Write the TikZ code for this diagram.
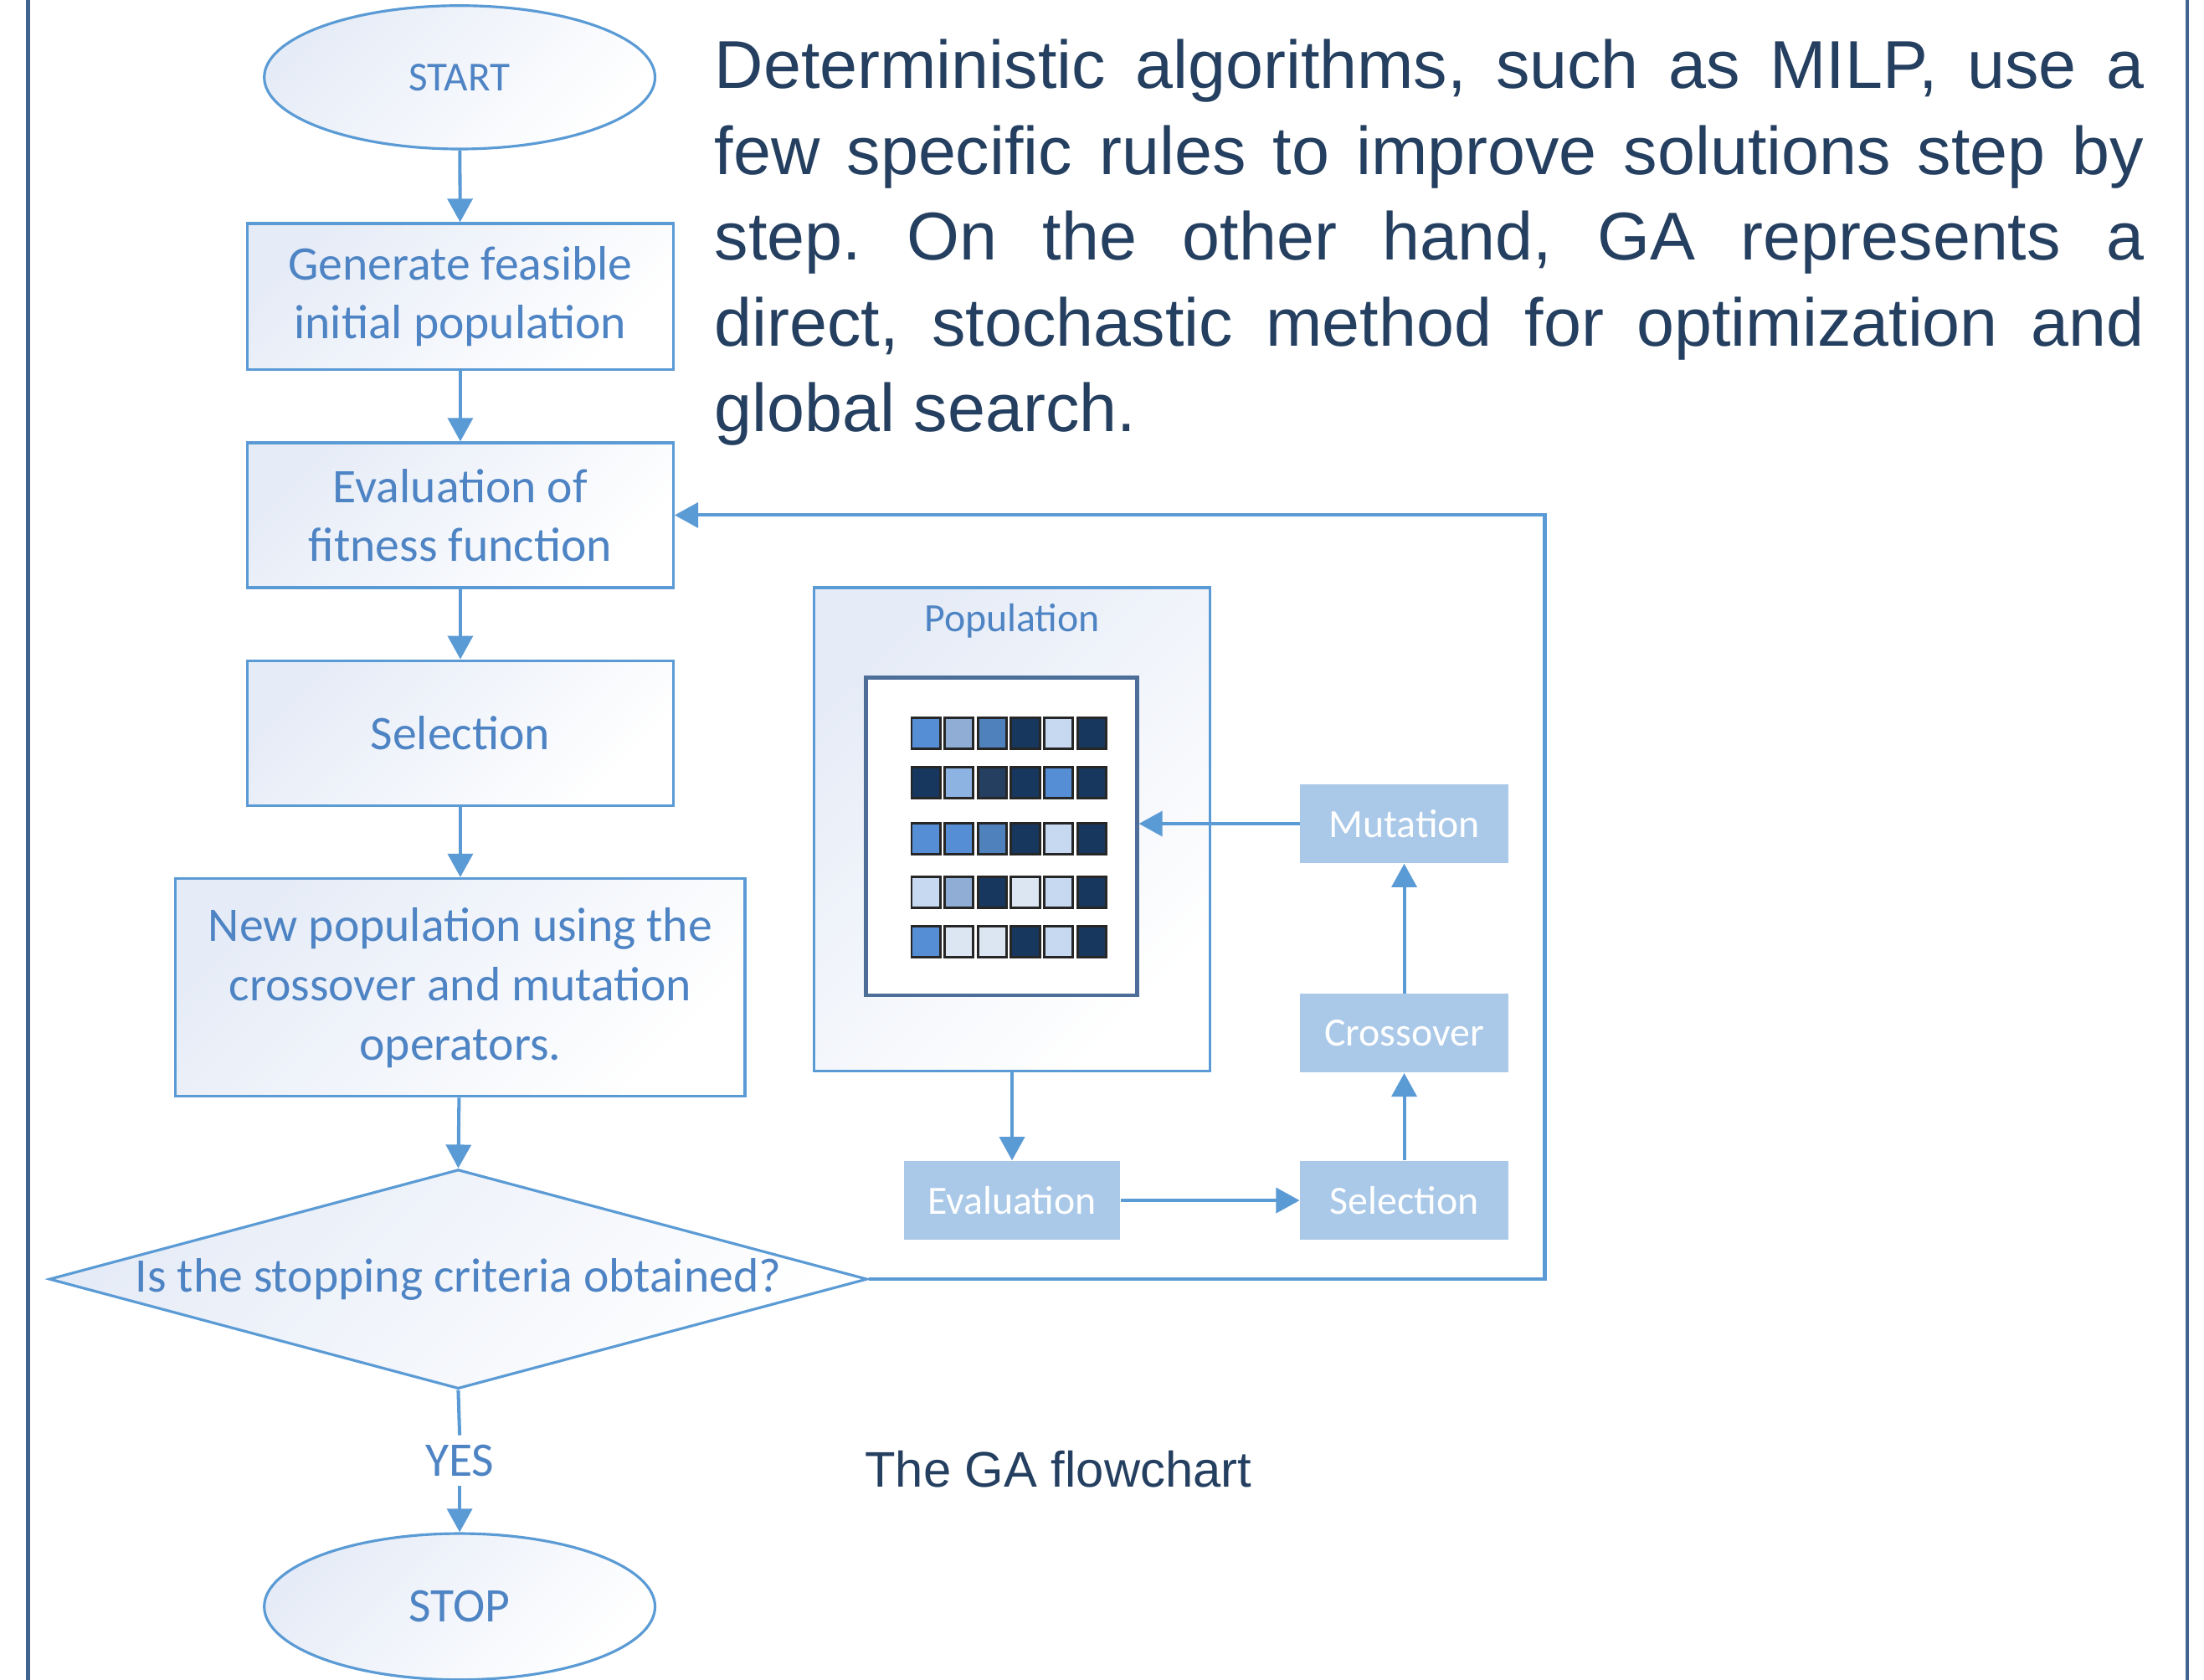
\documentclass[tikz,border=0pt]{standalone}
\usepackage{fontspec}
\setmainfont{Carlito}
\newfontfamily\gaParaFamily{Liberation Sans}
\usetikzlibrary{arrows.meta,shapes.geometric,backgrounds}
\frenchspacing

% one drawing unit
\newdimen\spx \spx=0.1679mm

\definecolor{gaLine}{HTML}{5B9BD5}
\definecolor{gaText}{HTML}{4E84C4}
\definecolor{gaFrame}{HTML}{41638F}
\definecolor{gaNavy}{HTML}{243F60}
\definecolor{gaGrad}{HTML}{E6ECF7}
\definecolor{gaOp}{HTML}{AAC9E8}
\definecolor{gaInner}{HTML}{4D6E98}
% chromosome cell colours
\definecolor{gA}{HTML}{558ED5}
\definecolor{gB}{HTML}{8FADD5}
\definecolor{gBb}{HTML}{8DB3E2}
\definecolor{gC}{HTML}{4F81BD}
\definecolor{gN}{HTML}{17375E}
\definecolor{gS}{HTML}{243F60}
\definecolor{gL}{HTML}{C6D9F1}
\definecolor{gW}{HTML}{DCE6F2}

\newcommand\gaBoxFont{\fontsize{16.4}{19.8}\selectfont}
\newcommand\gaSmallFont{\fontsize{13.6}{16}\selectfont}
\newcommand\gaParaFont{\gaParaFamily\fontsize{23}{29}\selectfont}
\newcommand\gaCapFont{\gaParaFamily\fontsize{17}{20}\selectfont}
\newcommand\gaJust[1]{\makebox[1017\spx][s]{#1}}

\tikzset{
  gaShade/.style={top color=gaGrad, bottom color=white, shading angle=45},
  flowbox/.style={draw=gaLine, line width=0.9pt, gaShade, text=gaText,
    font=\gaBoxFont, align=center, inner sep=0pt},
  terminal/.style={flowbox, ellipse},
  opbox/.style={fill=gaOp, text=white, font=\gaSmallFont, inner sep=0pt,
    minimum width=148\spx, minimum height=56\spx},
  gaArrow/.style={draw=gaLine, line width=1.15pt,
    -{Triangle[length=8pt,width=8.5pt]}},
  gaWire/.style={draw=gaLine, line width=1.15pt},
  cell/.style={draw=black!85, line width=0.8pt},
  paraline/.style={anchor=base west, inner sep=0pt, text=gaNavy, font=\gaParaFont},
}

\begin{document}
\begin{tikzpicture}[x=0.1679mm, y=-0.1679mm]
\useasboundingbox (0,0) rectangle (1568,1195);
\fill[white] (0,0) rectangle (1568,1195);

% page rules at both sides
\draw[gaFrame, line width=1.3pt] (20,0) -- (20,1195);
\draw[gaFrame, line width=1.3pt] (1556,0) -- (1556,1195);

% ---------- main flowchart ----------
\node[terminal, minimum width=278\spx, minimum height=102\spx, font=\fontsize{14}{16}\selectfont]
  (start) at (327,55) {START};
\node[flowbox, minimum width=303\spx, minimum height=104\spx]
  (init) at (327.5,211) {Generate feasible\\initial population};
\node[flowbox, minimum width=303\spx, minimum height=103\spx]
  (fit) at (327.5,366.5) {Evaluation of\\fitness function};
\node[flowbox, minimum width=303\spx, minimum height=103\spx]
  (sel) at (327.5,521.5) {Selection};
\node[flowbox, minimum width=405\spx, minimum height=155\spx, font=\fontsize{16.4}{20.2}\selectfont]
  (newpop) at (327.5,702.5) {New population using the\\crossover and mutation\\operators.};
\node[flowbox, diamond, aspect=3.73, minimum width=582\spx, minimum height=156\spx,
  label={[text=gaText, font=\gaBoxFont]center:Is the stopping criteria obtained?}]
  (stopq) at (326,910) {};
\node[text=gaText, font=\gaBoxFont, inner sep=3pt] (yes) at (327,1039) {YES};
\node[terminal, minimum width=278\spx, minimum height=104\spx]
  (stop) at (327,1143) {STOP};

\draw[gaArrow] (start) -- (init);
\draw[gaArrow] (init) -- (fit);
\draw[gaArrow] (fit) -- (sel);
\draw[gaArrow] (sel) -- (newpop);
\draw[gaArrow] (newpop) -- (stopq.north);
\draw[gaWire] (stopq.south) -- (yes.north);
\draw[gaArrow] (yes.south) -- (stop.north);
\coordinate (loop) at (1099,0);
\draw[gaArrow] (stopq.east) -| (loop |- fit.east) -- (fit.east);

% ---------- GA cycle ----------
\node[draw=gaLine, line width=0.9pt, gaShade, minimum width=282\spx, minimum height=344\spx,
  inner sep=0pt] (pop) at (720,590) {};
\node[text=gaText, font=\gaSmallFont, inner sep=0pt] (popl) at (720,442) {Population};
\node[draw=gaInner, line width=1.2pt, fill=white, minimum width=193\spx,
  minimum height=226\spx, inner sep=0pt] (grid) at (712.5,595) {};

\foreach \y/\cols in {521.5/{gA,gB,gC,gN,gL,gN},
                      557/{gN,gBb,gS,gN,gA,gN},
                      596.5/{gA,gA,gC,gN,gL,gN},
                      635/{gL,gB,gN,gW,gL,gN},
                      670/{gA,gW,gW,gN,gL,gN}}{
  \foreach \c [count=\i from 0] in \cols {
    \draw[cell, fill=\c] ({658.7+\i*23.6-10.2},{\y-11}) rectangle ({658.7+\i*23.6+10.2},{\y+11});
  }
}

\node[opbox] (mut) at (999,586) {Mutation};
\node[opbox] (cross) at (999,735) {Crossover};
\node[opbox, minimum width=154\spx] (evalop) at (720,854) {Evaluation};
\node[opbox] (selop) at (999,854) {Selection};

\begin{scope}[on background layer]
  \foreach \n in {mut,cross,evalop,selop}{
    \foreach \k in {1,...,5}{
      \fill[gaLine, opacity=0.05]
        ([xshift=-\k*0.5pt, yshift=-1pt-\k*0.7pt]\n.south west)
        rectangle ([xshift=\k*0.5pt, yshift=-2pt]\n.north east);
    }
  }
\end{scope}

\draw[gaArrow] (mut.west) -- (mut.west -| grid.east);
\draw[gaArrow] (cross) -- (mut);
\draw[gaArrow] (selop) -- (cross);
\draw[gaArrow] (evalop) -- (selop);
\draw[gaArrow] (pop.south -| evalop.north) -- (evalop.north);

% ---------- text ----------
\node[paraline] (p1) at (508,63) {\gaJust{Deterministic algorithms, such as MILP, use a}};
\node[paraline] (p2) at (508,124) {\gaJust{few specific rules to improve solutions step by}};
\node[paraline] (p3) at (508,185) {\gaJust{step. On the other hand, GA represents a}};
\node[paraline] (p4) at (508,246) {\gaJust{direct, stochastic method for optimization and}};
\node[paraline] (p5) at (508,307) {global search.};

\node[anchor=base west, inner sep=0pt, text=gaNavy, font=\gaCapFont] (cap) at (615,1058) {The GA flowchart};
\end{tikzpicture}
\end{document}
